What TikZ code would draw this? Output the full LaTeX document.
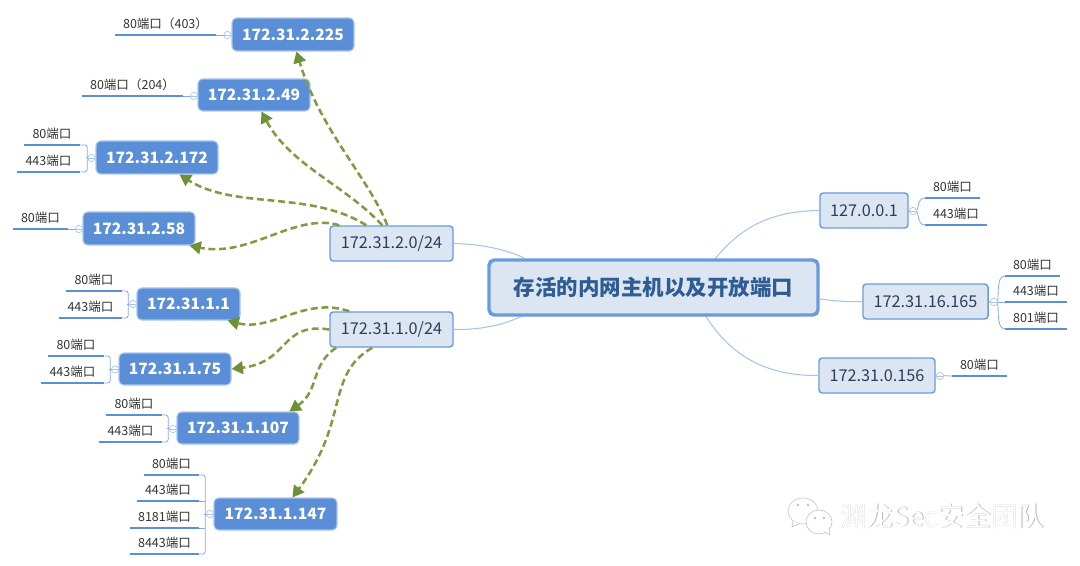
\documentclass[tikz,border=0pt]{standalone}
\usepackage{fontspec}
\setmainfont{Noto Sans CJK SC}
\usetikzlibrary{arrows.meta,calc}
\definecolor{hostblue}{HTML}{5A8ED6}
\definecolor{hostedge}{HTML}{A9C6EE}
\definecolor{subfill}{HTML}{DCE6F3}
\definecolor{subedge}{HTML}{6A9BDD}
\definecolor{subtext}{HTML}{2C3E5C}
\definecolor{maintext}{HTML}{2F5C92}
\definecolor{branch}{HTML}{A6C4EC}
\definecolor{leafline}{HTML}{5A90DA}
\definecolor{rel}{HTML}{7F9C40}
\definecolor{reltip}{HTML}{6F9135}
\definecolor{wm}{HTML}{B5B5B5}
\tikzset{
  hostbox/.style={draw=hostedge,line width=.8pt,fill=hostblue,rounded corners=3.5pt,text=white,font=\fontsize{11.7}{15}\selectfont\bfseries,inner sep=0pt},
  subbox/.style={draw=subedge,line width=1.1pt,fill=subfill,rounded corners=2.5pt,text=subtext,font=\fontsize{12.2}{15}\selectfont,inner sep=0pt},
  mainbox/.style={draw=subedge,line width=2.6pt,fill=subfill,rounded corners=4pt,text=maintext,font=\fontsize{16.1}{19}\selectfont\bfseries,inner sep=0pt},
  leaf/.style={anchor=south,inner sep=0pt,text=black!80,font=\fontsize{9.4}{12}\selectfont},
  underline/.style={draw=leafline,line width=1.5pt},
  bracket/.style={draw=leafline!75,line width=.6pt,rounded corners=2pt},
  branchline/.style={draw=branch,line width=.8pt},
  collapse/.style={circle,draw=hostedge,fill=white,line width=.5pt,minimum size=5.5pt,inner sep=0pt,
    path picture={\draw[hostedge,line width=.4pt] (path picture bounding box.west) -- (path picture bounding box.east);}},
  relation/.style={draw=rel,line width=1.9pt,dash pattern=on 5.2pt off 2.8pt,-{Triangle[length=8.5pt,width=9.5pt,fill=reltip,color=reltip]}},
  shell/.style={draw=black!22,fill=white,line width=.5pt},
}
\newcommand{\bx}[7]{\node[#1,minimum width={(#5-#3)*.75pt},minimum height={(#6-#4)*.75pt}] (#2) at ({(#3+#5)/2},{(#4+#6)/2}) {#7};}
\newcommand{\lf}[5]{\node[leaf,minimum width={(#3-#2)*.75pt},minimum height=16.5pt] (#1) at ({(#2+#3)/2},#4) {#5};
  \draw[underline] (#1.south west) -- (#1.south east);}
\newcommand{\cp}[3]{\node[collapse] (#1) at (#2,#3) {};}
\begin{document}
\begin{tikzpicture}[x=.75pt,y=-.75pt]
\useasboundingbox (0,0) rectangle (1080,566);
% branch lines
\coordinate (mainL1) at (524,258);
\coordinate (mainL2) at (524,315);
\coordinate (mainR1) at (715,259);
\coordinate (mainR2) at (820,299);
\coordinate (mainR3) at (705,315);
\bx{subbox}{subA}{330}{226}{453}{261}{172.31.2.0/24}
\bx{subbox}{subB}{330}{312}{453}{347}{172.31.1.0/24}
\bx{subbox}{subC}{820}{193}{908}{228}{127.0.0.1}
\bx{subbox}{subD}{863}{284}{988}{319}{172.31.16.165}
\bx{subbox}{subE}{819}{358}{935}{393}{172.31.0.156}
\draw[branchline] (subA.east) .. controls (480,244) and (505,249) .. (mainL1);
\draw[branchline] (subB.east) .. controls (480,330) and (505,325) .. (mainL2);
\draw[branchline] (subC.west) .. controls (770,211) and (740,228) .. (mainR1);
\draw[branchline] (subD.west) .. controls (845,302) and (835,301) .. (mainR2);
\draw[branchline] (subE.west) .. controls (765,376) and (730,355) .. (mainR3);
\bx{mainbox}{root}{489}{260}{818}{315}{存活的内网主机以及开放端口}
% hosts
\bx{hostbox}{hA}{232}{18}{354}{51}{172.31.2.225}
\bx{hostbox}{hB}{198}{79}{310}{111}{172.31.2.49}
\bx{hostbox}{hC}{96}{141}{218}{174}{172.31.2.172}
\bx{hostbox}{hD}{83}{212}{195}{245}{172.31.2.58}
\bx{hostbox}{hE}{137}{288}{240}{320}{172.31.1.1}
\bx{hostbox}{hF}{119}{353}{231}{385}{172.31.1.75}
\bx{hostbox}{hG}{177}{412}{299}{444}{172.31.1.107}
\bx{hostbox}{hH}{214}{498}{337}{530}{172.31.1.147}
% leaves
\lf{la}{115}{216}{35}{80端口（403）}
\lf{lb}{82}{183}{96}{80端口（204）}
\lf{lc}{24}{80}{145}{80端口}
\lf{ld}{17}{80}{172}{443端口}
\lf{le}{13}{68}{229}{80端口}
\lf{lf}{66}{122}{291}{80端口}
\lf{lg}{59}{122}{318}{443端口}
\lf{lh}{48}{104}{356}{80端口}
\lf{li}{41}{104}{383}{443端口}
\lf{lj}{106}{162}{415}{80端口}
\lf{lk}{99}{162}{442}{443端口}
\lf{ll}{144}{199}{475}{80端口}
\lf{lm}{137}{199}{501}{443端口}
\lf{ln}{130}{199}{528}{8181端口}
\lf{lo}{130}{199}{554}{8443端口}
\lf{lp}{925}{980}{198}{80端口}
\lf{lq}{925}{987}{225}{443端口}
\lf{lr}{1005}{1060}{276}{80端口}
\lf{ls}{1005}{1067}{302}{443端口}
\lf{lt}{1005}{1067}{329}{801端口}
\lf{lu}{952}{1007}{376}{80端口}
% collapse markers and brackets
\draw[bracket] (la.south east) -- (hA.west |- la.south east);
\draw[bracket] (lb.south east) -- (hB.west |- lb.south east);
\draw[bracket] (le.south east) -- (hD.west |- le.south east);
\draw[bracket] (lc.south east) -- ++(7,0) |- (ld.south east);
\draw[bracket] (lf.south east) -- ++(6,0) |- (lg.south east);
\draw[bracket] (lh.south east) -- ++(6,0) |- (li.south east);
\draw[bracket] (lj.south east) -- ++(6,0) |- (lk.south east);
\draw[bracket] (ll.south east) -- ++(6,0) |- (lo.south east);
\draw[bracket] (lm.south east) -- ++(6,0);
\draw[bracket] (ln.south east) -- ++(6,0);
\draw[bracket,rounded corners=0pt] (hC.west) -- ++(-9,0);
\draw[bracket,rounded corners=0pt] (hE.west) -- ++(-9,0);
\draw[bracket,rounded corners=0pt] (hF.west) -- ++(-9,0);
\draw[bracket,rounded corners=0pt] (hG.west) -- ++(-9,0);
\draw[bracket,rounded corners=0pt] (hH.west) -- ++(-9,0);
\draw[bracket] (lp.south west) .. controls (917,198) and (919,211) .. (913,211) .. controls (919,211) and (917,225) .. (lq.south west);
\draw[bracket] (lr.south west) .. controls (995,276) and (1000,302) .. (994,302) .. controls (1000,302) and (995,329) .. (lt.south west);
\draw[bracket] (ls.south west) -- (994,302);
\draw[bracket,rounded corners=0pt] (subC.east) -- (913,211);
\draw[bracket,rounded corners=0pt] (subD.east) -- (994,302);
\draw[bracket,rounded corners=0pt] (subE.east) -- (lu.south west);
\cp{cA}{227.5}{35}
\cp{cB}{194}{96}
\cp{cC}{91.5}{158}
\cp{cD}{79}{229}
\cp{cE}{133}{304}
\cp{cF}{115}{369.5}
\cp{cG}{173}{429}
\cp{cH}{210}{514}
\cp{cI}{913}{211}
\cp{cJ}{994}{302}
\cp{cK}{940}{376}
% relations
\draw[relation] ([shift={(58,0)}]subA.north west) .. controls (370,180) and (320,130) .. ([shift={(65,0)}]hA.south west);
\draw[relation] ([shift={(53,0)}]subA.north west) .. controls (345,185) and (290,165) .. ([shift={(64,0)}]hB.south west);
\draw[relation] ([shift={(37,0)}]subA.north west) .. controls (310,190) and (235,210) .. ([shift={(84,0)}]hC.south west);
\draw[relation] ([shift={(10,0)}]subA.north west) .. controls (295,212) and (250,258) .. ([shift={(107,0)}]hD.south west);
\draw[relation] ([shift={(20,0)}]subB.north west) .. controls (305,296) and (272,332) .. ([shift={(91,0)}]hE.south west);
\draw[relation] (subB.west) .. controls (280,322) and (290,362) .. (hF.east);
\draw[relation] ([shift={(7,0)}]subB.south west) .. controls (310,365) and (320,390) .. ([shift={(113,0)}]hG.north west);
\draw[relation] ([shift={(43,0)}]subB.south west) .. controls (325,375) and (350,420) .. ([shift={(79,0)}]hH.north west);
% watermark
\begin{scope}
\draw[shell] (803,511) ellipse[x radius=15,y radius=13];
\draw[shell] (793,521) -- (792,527) -- (799,524);
\draw[shell] (819,522) ellipse[x radius=13,y radius=12];
\draw[shell,fill=white] (825,532) -- (830,535) -- (829,528);
\fill[black!25] (798,505) circle (1.3) (808,505) circle (1.3) (815,518) circle (1.3) (824,518) circle (1.3);
\end{scope}
\node[text=wm,font=\fontsize{20}{24}\selectfont,inner sep=0pt] (wmA) at (943,516.5) {渊龙Sec安全团队};
\node[text=white,font=\fontsize{20}{24}\selectfont,inner sep=0pt] (wmB) at (942.4,516.2) {渊龙Sec安全团队};
\end{tikzpicture}
\end{document}
